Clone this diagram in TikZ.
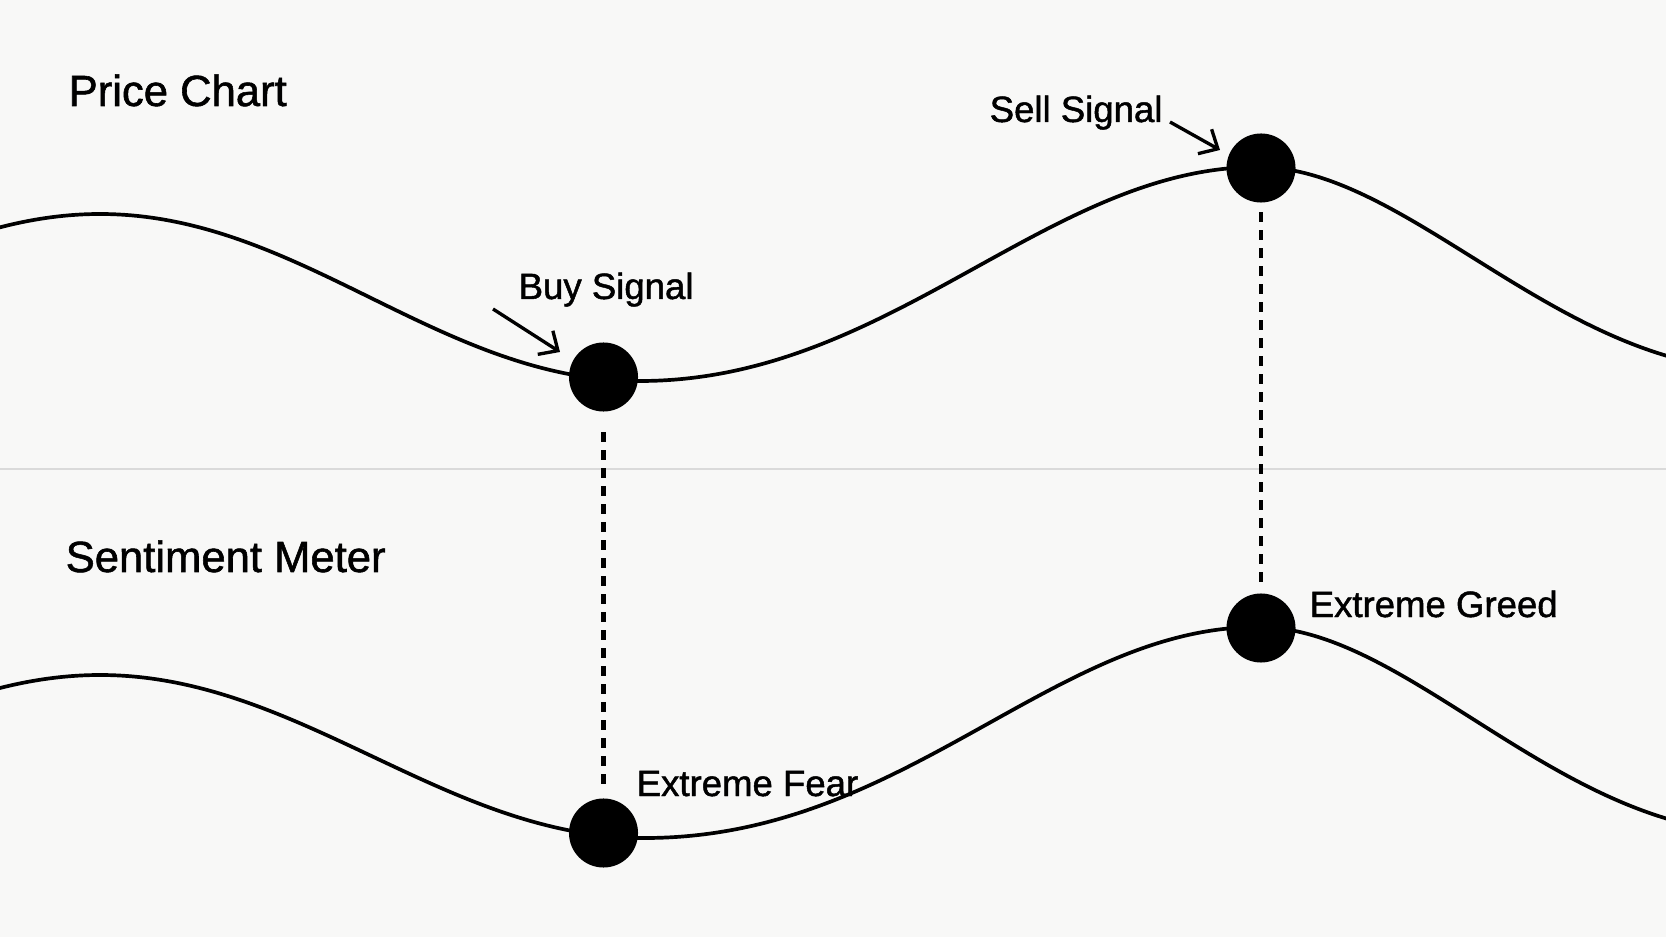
\documentclass[tikz,border=0pt]{standalone}
\usepackage{fontspec}
\setmainfont{Liberation Sans}[FakeBold=1.3]
\usetikzlibrary{arrows.meta}
\definecolor{paper}{RGB}{248,248,247}
\definecolor{rule}{RGB}{218,218,218}
\tikzset{
  dot/.style={circle, fill=black, inner sep=0pt, minimum size=0.69cm},
  heading/.style={anchor=base west, inner sep=0pt, font=\fontsize{12.4}{14}\selectfont},
  label/.style={anchor=base west, inner sep=0pt, font=\fontsize{10.4}{12}\selectfont},
  wave/.style={line width=1.05pt},
  link/.style={line width=1.2pt, dash pattern=on 0.1cm off 0.08cm},
  pointer/.style={line width=0.95pt, -{Straight Barb[length=1.5mm,width=2.8mm]}}
}
\begin{document}
\begin{tikzpicture}[x=0.01cm, y=-0.01cm]
  \fill[paper] (0,0) rectangle (1666,937);
  \useasboundingbox (0,0) rectangle (1666,937);
  \draw[rule, line width=0.6pt] (0,469) -- (1666,469);
  % curves
  \begin{scope}
    \clip (0,0) rectangle (1666,937);
    \draw[wave] (-450,381) .. controls +(200,0) and +(-200,0) .. (100,214)
      .. controls +(200,0) and +(-200,0) .. (640,381)
      .. controls +(250,0) and +(-210,0) .. (1258,167)
      .. controls +(150,0) and +(-200,0) .. (1760,370);
    \draw[wave] (-450,838) .. controls +(200,0) and +(-200,0) .. (100,675)
      .. controls +(200,0) and +(-200,0) .. (645,838)
      .. controls +(260,0) and +(-205,0) .. (1258,627)
      .. controls +(150,0) and +(-200,0) .. (1760,833);
  \end{scope}
  % signals
  \node[dot] (buy) at (603.5,377) {};
  \node[dot] (sell) at (1261,168) {};
  \node[dot] (fear) at (603.5,833) {};
  \node[dot] (greed) at (1261,628) {};
  \draw[link, shorten <=0.2cm, shorten >=0.12cm] (buy) -- (fear);
  \draw[link, shorten <=0.09cm, shorten >=0.11cm] (sell) -- (greed);
  \node[heading] (price) at (68,106) {Price Chart};
  \node[heading] (meter) at (65,572) {Sentiment Meter};
  \node[label] (buylbl) at (518,299) {Buy Signal};
  \node[label] (selllbl) at (989,122) {Sell Signal};
  \node[label] (greedlbl) at (1309,617) {Extreme Greed};
  \node[label] (fearlbl) at (636,796) {Extreme Fear};
  \coordinate (buytail) at (493,309); \coordinate (buytip) at (560,352);
  \coordinate (selltail) at (1170,122); \coordinate (selltip) at (1220,150);
  \draw[pointer] (buytail) -- (buytip);
  \draw[pointer] (selltail) -- (selltip);
\end{tikzpicture}
\end{document}
